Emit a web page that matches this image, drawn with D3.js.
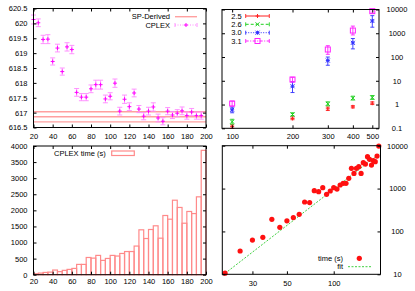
<!DOCTYPE html>
<html>
<head>
<meta charset="utf-8">
<script src="https://cdn.jsdelivr.net/npm/d3@7"></script>
<style>
body { margin: 0; background: #fff; }
svg { display: block; font-family: "Liberation Sans", Arial, sans-serif; font-size: 7.5px; }
</style>
</head>
<body>
<svg width="415" height="291"></svg>
<script>
// ---- data ----
const sizes = [20, 25, 30, 35, 40, 45, 50, 55, 60, 65, 70, 75, 80, 85, 90, 95, 100, 105,
               110, 115, 120, 125, 130, 135, 140, 145, 150, 155, 160, 165, 170, 175, 180, 185, 190, 195];

// top left: objective values
const cplexObj = [620.13, 620.02, 619.46, 619.47, 618.72, 619.17, 618.38, 619.21, 619.12, 617.68,
                  617.52, 617.52, 617.8, 617.94, 617.94, 617.46, 617.55, 617.99, 617.05, 617.45,
                  617.2, 617.66, 617.12, 616.88, 617.05, 617.19, 616.82, 616.71, 617.05, 616.92,
                  616.98, 617.06, 616.9, 617.02, 616.9, 616.9];
const cplexErr = [0.15, 0.13, 0.14, 0.15, 0.12, 0.13, 0.12, 0.14, 0.14, 0.13, 0.12, 0.12, 0.13,
                  0.15, 0.15, 0.13, 0.12, 0.14, 0.13, 0.14, 0.13, 0.13, 0.12, 0.12, 0.13, 0.14,
                  0.13, 0.12, 0.12, 0.12, 0.12, 0.13, 0.12, 0.12, 0.12, 0.12];
const spDerived = [616.69, 616.86, 617.03];   // low, mean, high
const objTicks = [616.5, 617, 617.5, 618, 618.5, 619, 619.5, 620, 620.5];
const sizeTicks = [20, 40, 60, 80, 100, 120, 140, 160, 180, 200];

// bottom left: CPLEX time histogram
const cplexTime = [30, 50, 70, 80, 145, 95, 135, 165, 195, 320, 320, 535, 515, 600, 445, 505,
                   600, 580, 660, 720, 720, 890, 1395, 1125, 1405, 1520, 1135, 1840, 1725, 2315,
                   2090, 1600, 1965, 1900, 2420, 3865];
const timeTicks = [0, 500, 1000, 1500, 2000, 2500, 3000, 3500, 4000];
const binWidth = 5;

// top right: versions
const scaleN = [100, 200, 300, 400, 500];
const versions = ["2.5", "2.6", "3.0", "3.1"];
const v25 = [0.12, 0.26, 0.66, 0.8, 1.14];
const v25lo = [0.1, 0.23, 0.56, 0.72, 1.0];
const v25hi = [0.14, 0.3, 0.78, 0.9, 1.3];
const v26 = [0.19, 0.38, 1.07, 1.85, 1.97];
const v26lo = [0.15, 0.33, 0.88, 1.55, 1.65];
const v26hi = [0.24, 0.45, 1.3, 2.25, 2.4];
const v30 = [0.6, 5.9, 71, 396, 3300];
const v30lo = [0.45, 3.2, 45, 220, 1800];
const v30hi = [0.78, 9, 100, 600, 5500];
const v31 = [1.1, 11.3, 207, 1300, 8500];
const v31lo = [0.85, 9, 130, 850, 7000];
const v31hi = [1.4, 14, 300, 2000, 10000];
const logTicksTR = [0.1, 1, 10, 100, 1000, 10000];

// bottom right: time vs size, log-log
const timeTotal = [10.6, 35, 63, 73, 192, 125, 177, 210, 251, 486, 470, 893, 847, 1050, 735, 877,
                   1050, 975, 1210, 1325, 1325, 1730, 2960, 2260, 2960, 3240, 2260, 4010, 3730,
                   5540, 4800, 3540, 4470, 4230, 5740, 9800];
const fitX = [20, 200];
const fitY = [10.5, 6800];
const logTicksBR = [10, 100, 1000, 10000];
const sizeTicksBR = [30, 50, 100];

// ---- drawing ----
const svg = d3.select("svg");

// border box plus inward ticks on all four sides
function drawFrame(x, y, o) {
    const [x0, x1] = x.range(), [y1, y0] = y.range();
    const g = svg.append("g").attr("class", "frame");
    const fmt = String;

    g.append("g").attr("transform", `translate(0,${y1})`)
        .call(d3.axisBottom(x).tickValues(o.xt).tickFormat(String)
            .tickSizeInner(-3).tickSizeOuter(0).tickPadding(o.xpad));
    g.append("g").attr("transform", `translate(0,${y0})`)
        .call(d3.axisTop(x).tickValues(o.xt).tickFormat("")
            .tickSizeInner(-3).tickSizeOuter(0));
    g.append("g").attr("transform", `translate(${x0},0)`)
        .call(d3.axisLeft(y).tickValues(o.yt).tickFormat(o.yRight ? "" : fmt)
            .tickSizeInner(-3).tickSizeOuter(0).tickPadding(6));
    const right = g.append("g").attr("transform", `translate(${x1},0)`)
        .call(d3.axisRight(y).tickValues(o.yt).tickFormat(o.yRight ? fmt : "")
            .tickSizeInner(-3).tickSizeOuter(0));

    if (o.yRight) {
        right.selectAll("text").attr("text-anchor", "middle").attr("x", o.yRight);
    }

    g.selectAll(".domain").remove();
    g.selectAll("g").attr("font-size", null).attr("font-family", null);
    g.selectAll(".tick line").attr("stroke", "#000");
    g.selectAll(".tick text").attr("fill", "#000");

    g.append("rect")
        .attr("x", x0).attr("y", y0)
        .attr("width", x1 - x0).attr("height", y1 - y0)
        .attr("fill", "none").attr("stroke", "#000");
}

function marker(g, type, cx, cy, color, s = 2) {
    if (type === "+" || type === "*") {
        g.append("path").attr("d", `M${cx - s},${cy}h${2 * s}M${cx},${cy - s}v${2 * s}`)
            .attr("stroke", color).attr("fill", "none");
    }
    if (type === "x" || type === "*") {
        g.append("path").attr("d", `M${cx - s},${cy - s}l${2 * s},${2 * s}M${cx - s},${cy + s}l${2 * s},${-2 * s}`)
            .attr("stroke", color).attr("fill", "none");
    }
    if (type === "sq") {
        g.append("rect").attr("x", cx - 2.5).attr("y", cy - 2.5).attr("width", 5).attr("height", 5)
            .attr("stroke", color).attr("fill", "none");
    }
}

function errBar(g, cx, ylo, yhi, color, cap) {
    g.append("path")
        .attr("d", `M${cx},${ylo}V${yhi}M${cx - cap},${ylo}h${2 * cap}M${cx - cap},${yhi}h${2 * cap}`)
        .attr("stroke", color).attr("fill", "none").attr("stroke-width", 0.9);
}

function legendText(x, y, txt) {
    svg.append("text").attr("x", x).attr("y", y).attr("dy", "0.35em")
        .attr("text-anchor", "end").attr("fill", "#000").text(txt);
}

// ---------- top left ----------
{
    const x = d3.scaleLinear().domain([20, 200]).range([33.5, 206]);
    const y = d3.scaleLinear().domain([616.5, 620.5]).range([127.5, 8.5]);
    const g = svg.append("g");

    g.selectAll("line.sp").data(spDerived).enter().append("line")
        .attr("x1", x(20)).attr("x2", x(200))
        .attr("y1", d => y(d)).attr("y2", d => y(d))
        .attr("stroke", "#ffa0a0").attr("stroke-width", 1.4);

    sizes.forEach((s, i) => {
        errBar(g, x(s), y(cplexObj[i] - cplexErr[i]), y(cplexObj[i] + cplexErr[i]), "#ff88ff", 2.5);
        marker(g, "+", x(s), y(cplexObj[i]), "#ff00ff", 2);
    });

    drawFrame(x, y, { xt: sizeTicks, yt: objTicks, xpad: 6 });

    legendText(170, 16.7, "SP-Derived");
    svg.append("line").attr("x1", 175).attr("x2", 197).attr("y1", 16.7).attr("y2", 16.7)
        .attr("stroke", "#ffa0a0").attr("stroke-width", 1.4);
    legendText(170, 25, "CPLEX");
    const lg = svg.append("g");
    lg.append("line").attr("x1", 175).attr("x2", 197).attr("y1", 25).attr("y2", 25)
        .attr("stroke", "#ff88ff").attr("stroke-dasharray", "1,1.5");
    errBar(lg, 175, 23, 27, "#ff88ff", 0);
    errBar(lg, 197, 23, 27, "#ff88ff", 0);
    marker(lg, "+", 186, 25, "#ff00ff", 2);
}

// ---------- top right ----------
{
    const x = d3.scaleLog().domain([89, 540]).range([222, 379]);
    const y = d3.scaleLog().domain([0.1, 10000]).range([128.3, 9.5]);
    const g = svg.append("g");

    const series = [
        { vals: v25, lo: v25lo, hi: v25hi, color: "#ff2020", mk: "+", dash: null },
        { vals: v26, lo: v26lo, hi: v26hi, color: "#20d020", mk: "x", dash: "3,2" },
        { vals: v30, lo: v30lo, hi: v30hi, color: "#3030ff", mk: "*", dash: "1,1.5" },
        { vals: v31, lo: v31lo, hi: v31hi, color: "#ff20ff", mk: "sq", dash: "3,1.5,1,1.5" }
    ];

    series.forEach(sr => {
        scaleN.forEach((n, i) => {
            errBar(g, x(n), y(sr.lo[i]), y(sr.hi[i]), sr.color, 2);
            marker(g, sr.mk, x(n), y(sr.vals[i]), sr.color);
        });
    });

    drawFrame(x, y, { xt: scaleN, yt: logTicksTR, xpad: 5, yRight: 18 });

    const rows = [16, 24.3, 32.7, 41];
    series.forEach((sr, i) => {
        const cy = rows[i];
        legendText(241.7, cy, versions[i]);
        svg.append("line").attr("x1", 245.7).attr("x2", 269.3).attr("y1", cy).attr("y2", cy)
            .attr("stroke", sr.color).attr("stroke-dasharray", sr.dash);
        errBar(svg, 245.7, cy - 2, cy + 2, sr.color, 0);
        errBar(svg, 269.3, cy - 2, cy + 2, sr.color, 0);
        marker(svg, sr.mk, 257.5, cy, sr.color);
    });
}

// ---------- bottom left ----------
{
    const x = d3.scaleLinear().domain([20, 200]).range([33.5, 206]);
    const y = d3.scaleLinear().domain([0, 4000]).range([274.7, 146]);

    svg.append("g").selectAll("rect").data(cplexTime).enter().append("rect")
        .attr("x", (d, i) => x(sizes[i]))
        .attr("y", d => y(d))
        .attr("width", (d, i) => x(sizes[i] + binWidth) - x(sizes[i]))
        .attr("height", d => y(0) - y(d))
        .attr("fill", "none").attr("stroke", "#ff8a8a").attr("stroke-width", 1.2);

    drawFrame(x, y, { xt: sizeTicks, yt: timeTicks, xpad: 4 });

    legendText(105.7, 153.3, "CPLEX time (s)");
    svg.append("rect").attr("x", 111.7).attr("y", 151).attr("width", 22.6).attr("height", 4.5)
        .attr("fill", "none").attr("stroke", "#ff8a8a").attr("stroke-width", 1.2);
}

// ---------- bottom right ----------
{
    const x = d3.scaleLog().domain([19.2, 200]).range([222.3, 380.5]);
    const y = d3.scaleLog().domain([10, 10000]).range([274.3, 145.7]);
    const g = svg.append("g");

    g.append("path")
        .attr("d", d3.line().x(d => x(d[0])).y(d => y(d[1]))(fitX.map((v, i) => [v, fitY[i]])))
        .attr("stroke", "#40d040").attr("fill", "none").attr("stroke-dasharray", "2,1.5");

    g.selectAll("circle").data(timeTotal).enter().append("circle")
        .attr("cx", (d, i) => x(sizes[i]))
        .attr("cy", d => y(d))
        .attr("r", 2.6)
        .attr("fill", "#ff1010");

    drawFrame(x, y, { xt: sizeTicksBR, yt: logTicksBR, xpad: 6, yRight: 17 });

    legendText(343, 258.3, "time (s)");
    svg.append("circle").attr("cx", 359.3).attr("cy", 258.3).attr("r", 2.6).attr("fill", "#ff1010");
    legendText(343, 266.7, "fit");
    svg.append("line").attr("x1", 348).attr("x2", 371).attr("y1", 266.7).attr("y2", 266.7)
        .attr("stroke", "#40d040").attr("stroke-dasharray", "2,1.5");
}
</script>
</body>
</html>
